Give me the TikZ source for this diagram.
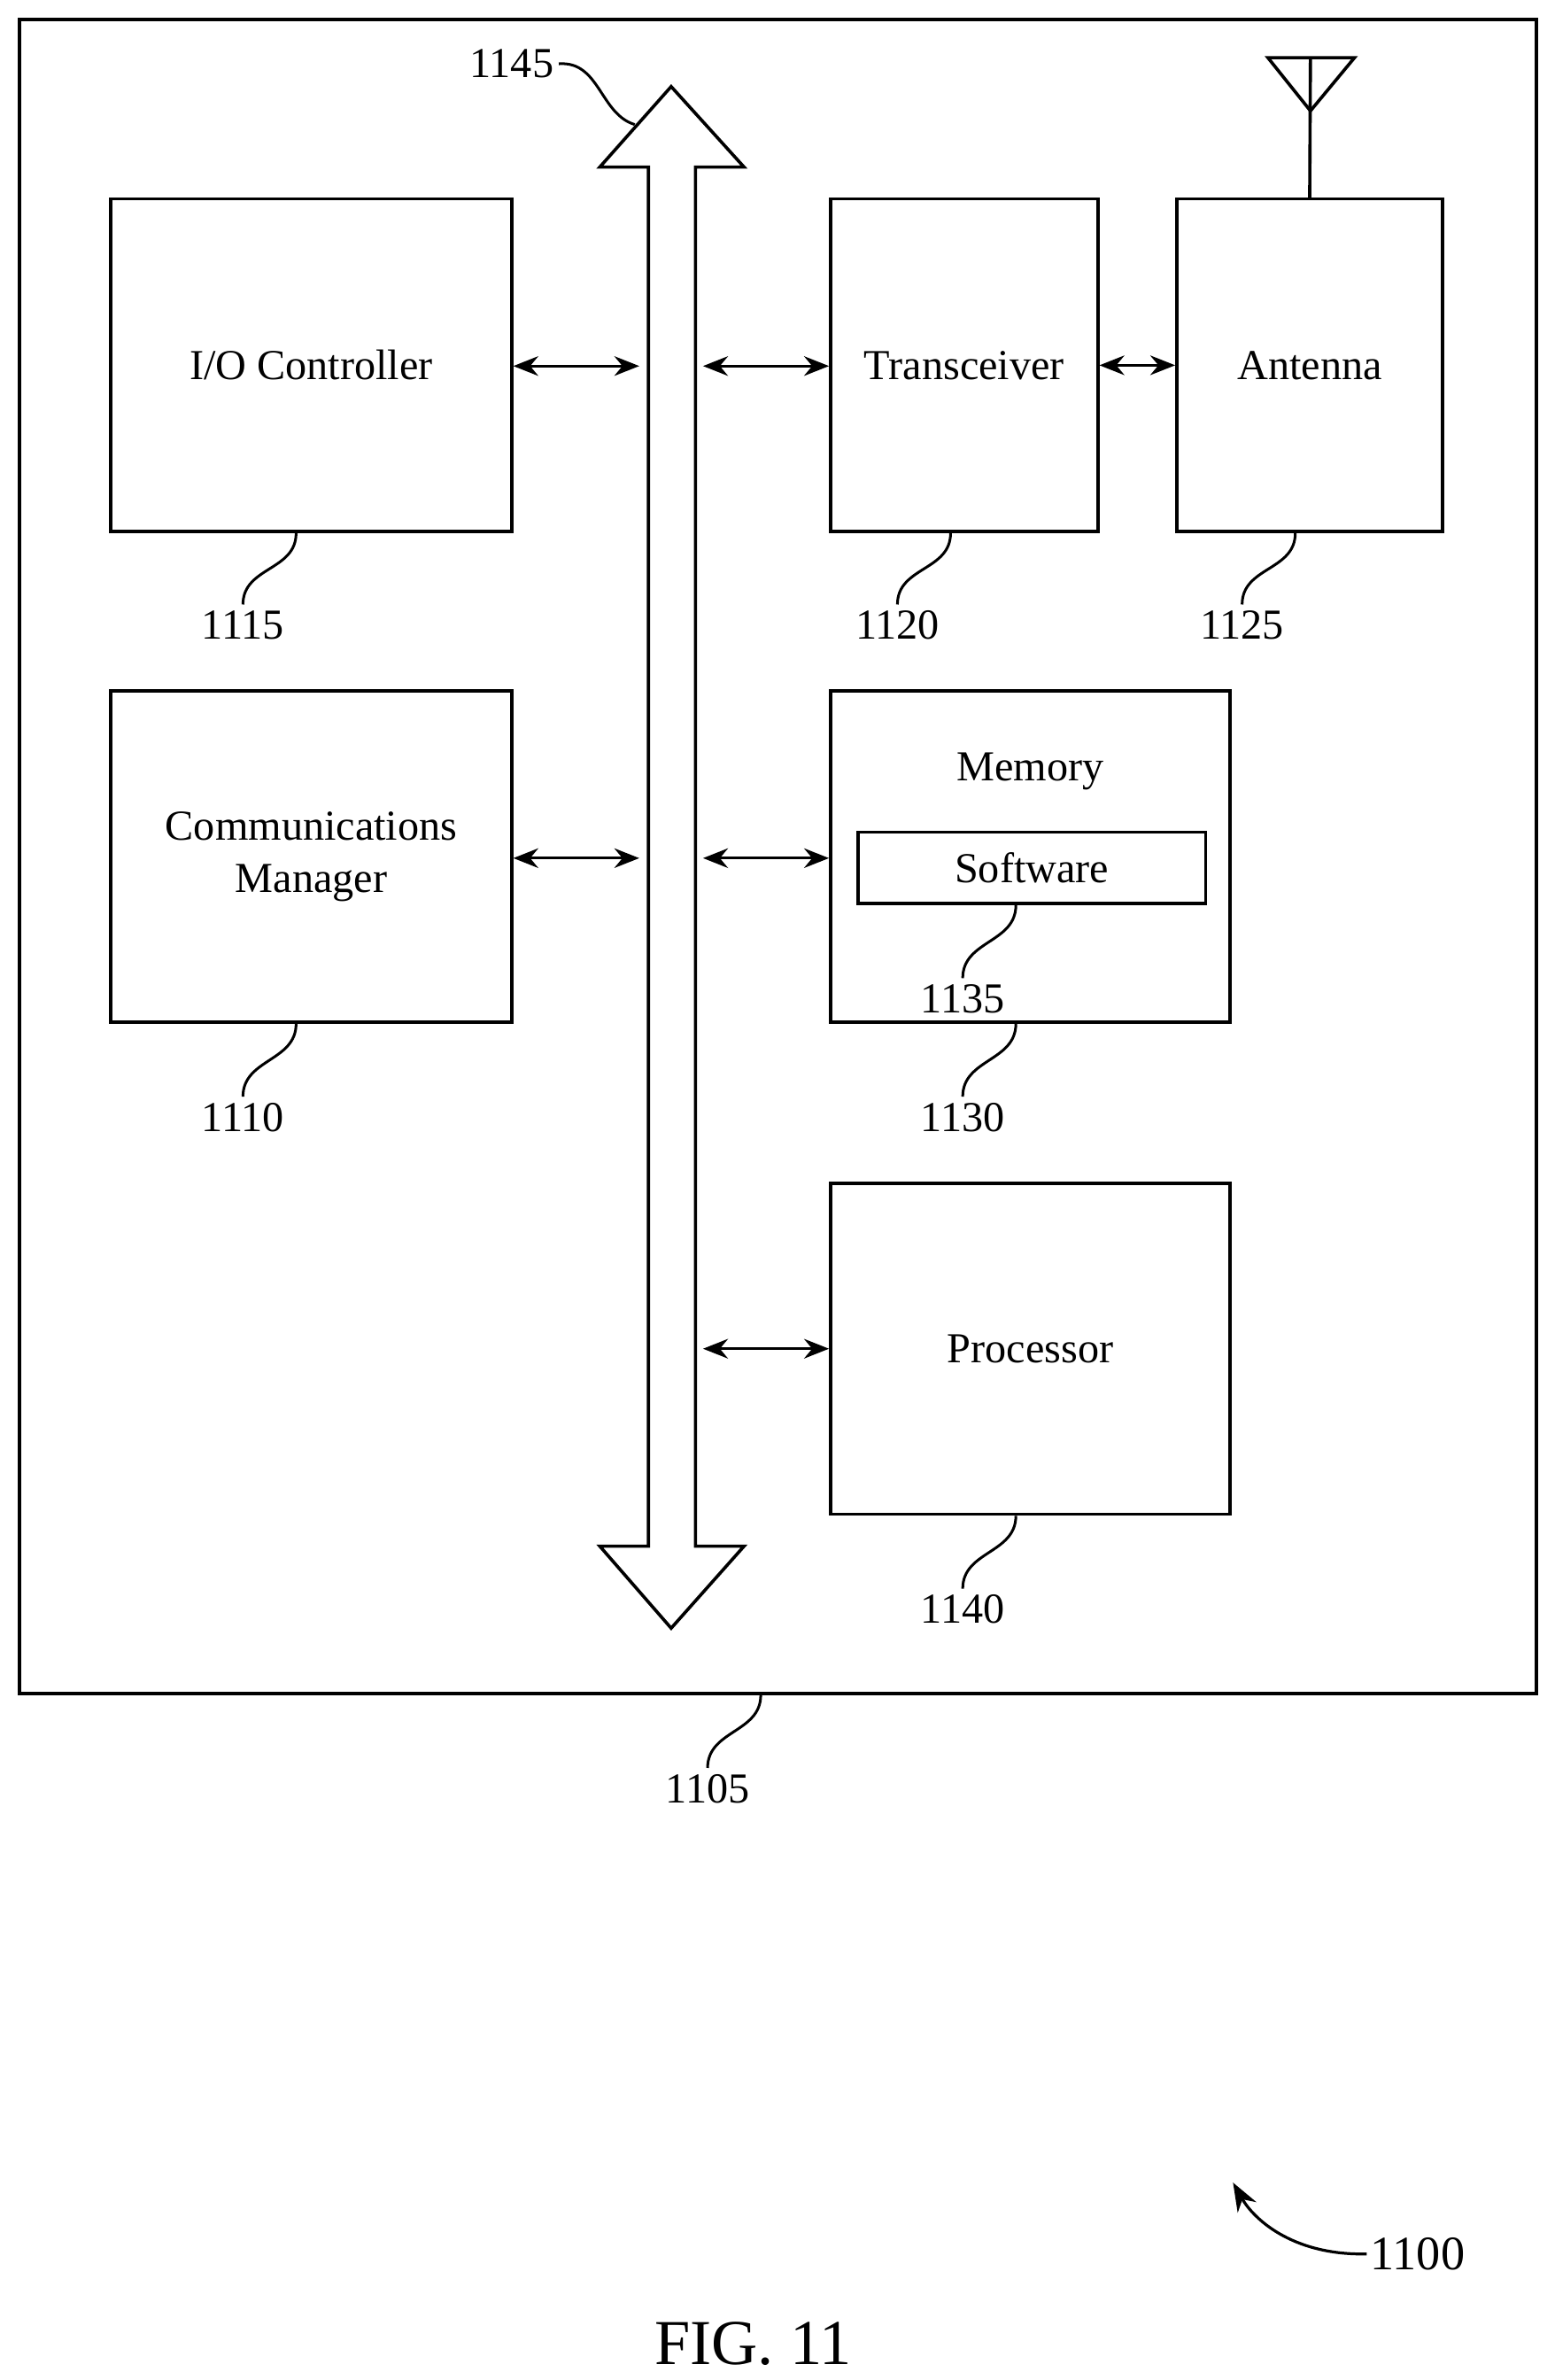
\documentclass[tikz,border=0pt]{standalone}
\usepackage{fontspec}
\setmainfont{Liberation Serif}
\usetikzlibrary{arrows.meta}
\tikzset{
  blk/.style={draw, line width=1.8pt, align=center, inner sep=0pt},
  link/.style={line width=1.6pt, {Stealth[length=14pt,width=11pt]}-{Stealth[length=14pt,width=11pt]}},
  lead/.style={line width=1.5pt},
}
\newcommand{\leadto}[3]{% from point, label point, text
  \draw[lead] (#1) .. controls ++(0,25) and ++(0,-25) .. (#2);
  \node[font=\fontsize{24}{28}\selectfont, below] at (#2) {#3};}
\begin{document}
\begin{tikzpicture}[x=0.03cm, y=-0.03cm, font=\fontsize{24}{29}\selectfont]
  \useasboundingbox (0,0) rectangle (1024,1567);
  % device box
  \draw[line width=2pt] (13,13) rectangle (1012,1115);

  % bus
  \draw[line width=1.8pt] (427,110) -- (395,110) -- (442,57) -- (490,110) -- (458,110)
    -- (458,1018) -- (490,1018) -- (442,1072) -- (395,1018) -- (427,1018) -- cycle;

  % blocks
  \node[blk, minimum width=264*0.03cm, minimum height=219*0.03cm] (io) at (205,240.5) {I/O Controller};
  \node[blk, minimum width=176*0.03cm, minimum height=219*0.03cm] (trx) at (635,240.5) {Transceiver};
  \node[blk, minimum width=175*0.03cm, minimum height=219*0.03cm] (ant) at (862.5,240.5) {Antenna};
  \node[blk, minimum width=264*0.03cm, minimum height=218*0.03cm] (cm) at (205,564) {Communications\\Manager};
  \node[blk, minimum width=263*0.03cm, minimum height=218*0.03cm] (mem) at (678.5,564) {};
  \node at (678.5,508) {Memory};
  \node[blk, minimum width=229*0.03cm, minimum height=47*0.03cm] (sw) at (679.5,571.5) {Software};
  \node[blk, minimum width=263*0.03cm, minimum height=218*0.03cm] (proc) at (678.5,888) {Processor};

  % antenna symbol
  \coordinate (tip) at (863,73);
  \draw[line width=1.8pt] (ant.north) -- (863,38);
  \draw[line width=1.8pt] (835,38) -- (892,38) -- (tip) -- cycle;

  % connections
  \coordinate (b1) at (421,241); \coordinate (b2) at (463,241);
  \coordinate (b3) at (421,565); \coordinate (b4) at (463,565);
  \coordinate (b5) at (463,888);
  \draw[link] (io.east |- b1) -- (b1);
  \draw[link] (b2) -- (trx.west |- b2);
  \draw[link] (trx.east) -- (ant.west);
  \draw[link] (cm.east |- b3) -- (b3);
  \draw[link] (b4) -- (mem.west |- b4);
  \draw[link] (b5) -- (proc.west |- b5);

  % reference numerals
  \leadto{195,351}{160,398}{1115}
  \leadto{626,351}{591,398}{1120}
  \leadto{853,351}{818,398}{1125}
  \leadto{195,674}{160,722}{1110}
  \leadto{669,596}{634,644}{1135}
  \leadto{669,674}{634,722}{1130}
  \leadto{669,998}{634,1046}{1140}
  \leadto{501,1116}{466,1164}{1105}
  \draw[lead] (368,42) .. controls (395,40) and (395,75) .. (418,82);
  \node[font=\fontsize{24}{28}\selectfont, left, inner sep=1pt] at (366,42) {1145};
  \node[font=\fontsize{27}{32}\selectfont, right, inner sep=2pt] at (900,1484) {1100};
  \draw[line width=1.6pt, -{Stealth[length=16pt,width=12pt]}] (900,1484) .. controls (850,1485) and (825,1460) .. (812,1437);
  \node[font=\fontsize{36}{42}\selectfont] at (496,1543) {FIG. 11};
\end{tikzpicture}
\end{document}
